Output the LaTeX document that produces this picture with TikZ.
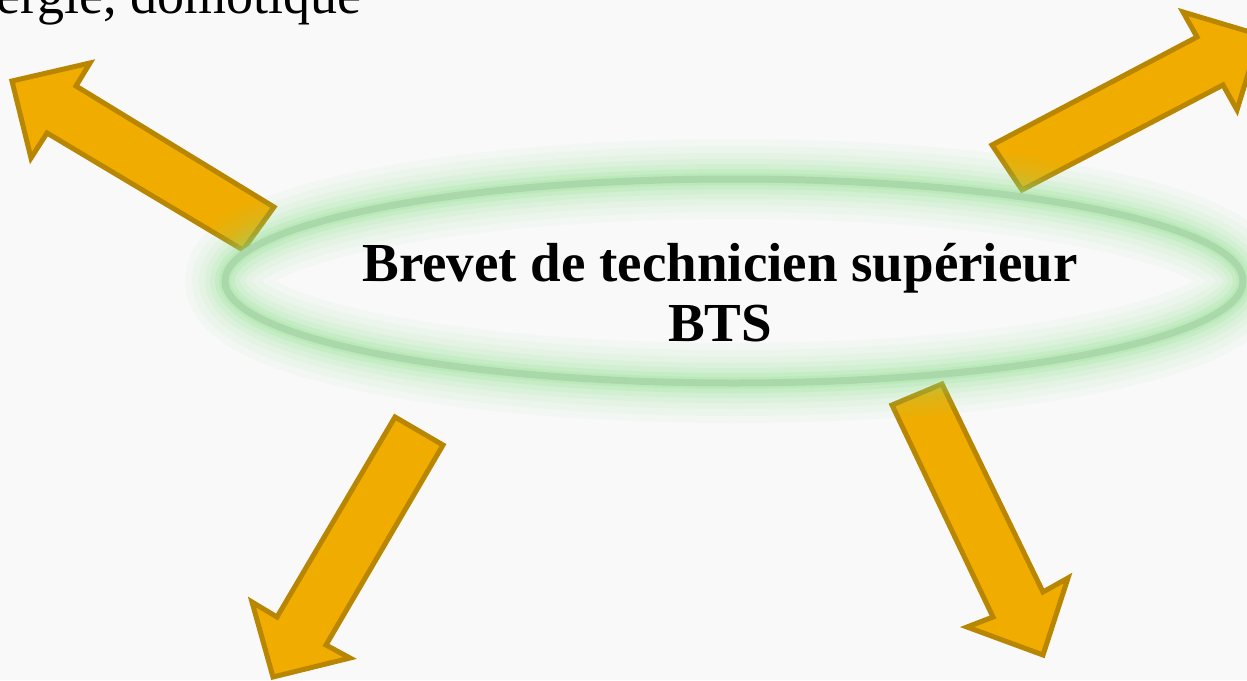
\documentclass[tikz,border=0pt]{standalone}
\usepackage{fontspec}
\setmainfont{Liberation Serif}
\definecolor{arrowfill}{RGB}{240,173,0}
\definecolor{arrowline}{RGB}{184,134,0}
\definecolor{glowgreen}{RGB}{140,225,140}
\definecolor{ringgreen}{RGB}{170,216,170}
\definecolor{paper}{RGB}{249,249,249}
\tikzset{
  bigarrow/.style={fill=arrowfill, draw=arrowline, line width=5pt, line join=miter},
  glow/.style={draw=glowgreen, opacity=#1},
}

\begin{document}
\begin{tikzpicture}[x=1pt,y=-1pt]
    \useasboundingbox (0,0) rectangle (1247,680);
    \clip (0,0) rectangle (1247,680);
    \fill[paper] (0,0) rectangle (1247,680);
    \node[anchor=base east, inner sep=0pt, font=\fontsize{54}{58}\selectfont] (domo) at (362,13) {ergie, domotique};
    \draw[bigarrow] (274,207) -- (76,86) -- (90,63) -- (12,81) -- (31,158) -- (47,133) -- (243,250) -- cycle;
    \draw[bigarrow] (992,145) -- (1197,37) -- (1183,12) -- (1260,35) -- (1237,110) -- (1223,85) -- (1022,190) -- cycle;
    \draw[bigarrow] (395,417) -- (443,445) -- (326,645) -- (350,658) -- (273,677) -- (252,602) -- (277,617) -- cycle;
    \draw[bigarrow] (892,405) -- (942,384) -- (1043,592) -- (1068,578) -- (1043,655) -- (967,627) -- (993,617) -- cycle;
    \foreach \w/\o in {80/0.05, 66/0.06, 52/0.08, 40/0.1, 30/0.12, 20/0.15, 12/0.2}
      \draw[glow=\o, line width=\w] (734,281) ellipse [x radius=509, y radius=102];
    \draw[ringgreen, line width=7] (734,281) ellipse [x radius=509, y radius=102];
    \node[align=center, font=\fontsize{55}{60}\selectfont\bfseries] (bts) at (720,293) {Brevet de technicien supérieur\\BTS};
  \end{tikzpicture}
\end{document}
